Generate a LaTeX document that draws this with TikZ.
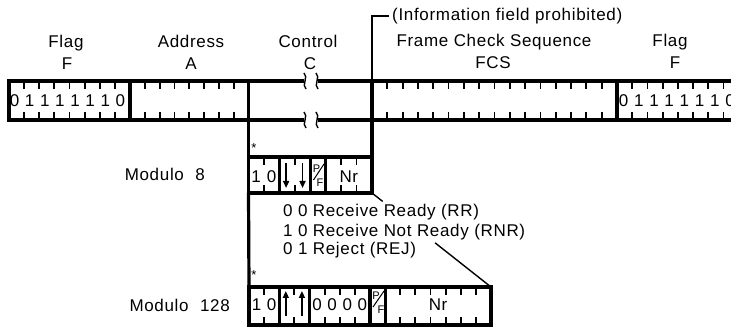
\documentclass[tikz,border=0pt]{standalone}
\usepackage{fontspec}
\setmainfont{Liberation Sans}
\newfontfamily\labfont[LetterSpace=4]{Liberation Sans}
\usetikzlibrary{calc,arrows.meta}
\begin{document}
\begin{tikzpicture}[x=1pt,y=-1pt,
  border/.style={line width=3.2pt, line join=miter},
  tickline/.style={line width=1.8pt},
  thinline/.style={line width=1.4pt},
  lab/.style={font=\labfont\fontsize{17}{20}\selectfont, inner sep=0pt, anchor=base},
  bit/.style={font=\labfont\fontsize{17}{20}\selectfont, inner sep=0pt, anchor=base},
  pf/.style={font=\fontsize{11}{12}\selectfont, inner sep=0pt},
  star/.style={font=\fontsize{13}{13}\selectfont, inner sep=0pt, anchor=base},
  arr/.style={line width=1.6pt, -{Triangle[width=6pt,length=7pt]}},
]
\useasboundingbox (0,0) rectangle (731,328);
\clip (0,0) rectangle (731,328);

% ---------- main frame bar ----------
\draw[border] (9,81) rectangle (130,120);
\draw[border] (130,81) rectangle (248.5,120);
\draw[border] (372,81) rectangle (617,120);
\draw[border] (617,81) rectangle (745,120);
\draw[border] (248.5,81) -- (304,81) (318,81) -- (372,81);
\draw[border] (248.5,120) -- (304,120) (318,120) -- (372,120);
\draw[border] (248.5,81) -- (248.5,157);
\draw[border] (372,81) -- (372,157);
\coordinate (brk) at (389,16);
\draw[thinline] (372,82) -- (372,16) -- (brk);

% break marks
\foreach \yy in {81,120}{
  \foreach \xx in {305,317}{
    \draw[line width=1.4pt] (\xx-1,\yy-8) .. controls (\xx+4,\yy-4) and (\xx-4,\yy+4) .. (\xx+1,\yy+8);
  }
}

% ticks
\foreach \k in {1,...,7}{
  \draw[tickline] ({9+\k*15.125},81) -- ++(0,8);
  \draw[tickline] ({9+\k*15.125},120) -- ++(0,-8);
  \draw[tickline] ({130+\k*14.8125},81) -- ++(0,8);
  \draw[tickline] ({130+\k*14.8125},120) -- ++(0,-8);
}
\foreach \k in {1,...,15}{
  \draw[tickline] ({372+\k*15.3125},81) -- ++(0,8);
  \draw[tickline] ({372+\k*15.3125},120) -- ++(0,-8);
}
\foreach \k in {1,...,8}{
  \draw[tickline] ({617+\k*15.2},81) -- ++(0,8);
  \draw[tickline] ({617+\k*15.2},120) -- ++(0,-8);
}

% flag digits
\foreach \d [count=\k from 0] in {0,1,1,1,1,1,1,0}{
  \node[bit] (lf\k) at ({9+(\k+0.5)*15.125-2},107) {\d};
  \node[bit] (rf\k) at ({617+(\k+0.5)*15.2-1},107) {\d};
}

% ---------- labels ----------
\node[lab] (flag1) at (66,48) {Flag};
\node[lab] (f1) at (67,70) {F};
\node[lab] (addr) at (191,48) {Address};
\node[lab] (a1) at (191,70) {A};
\node[lab] (ctrl) at (308,48) {Control};
\node[lab] (c1) at (310,70) {C};
\node[lab] (fcsl) at (494,47) {Frame Check Sequence};
\node[lab] (fcs) at (493,69) {FCS};
\node[lab] (flag2) at (670,47) {Flag};
\node[lab] (f2) at (675,69) {F};
\node[lab, anchor=base west] (info) at (392,21) {(Information field prohibited)};

\node[lab, anchor=base east] (mod8) at (205,181) {Modulo\hspace{6pt} 8};
\node[lab, anchor=base east] (mod128) at (230,312) {Modulo\hspace{6pt} 128};

% ---------- modulo 8 control field ----------
\def\wa{15.4375}
\draw[border] (248.5,157) rectangle (372,193);
\foreach \k in {1,...,7}{
  \draw[tickline] ({248.5+\k*\wa},157) -- ++(0,8);
  \draw[tickline] ({248.5+\k*\wa},193) -- ++(0,-8);
}
\foreach \k in {2,4,5}{
  \draw[border] ({248.5+\k*\wa},157) -- ({248.5+\k*\wa},193);
}
\node[bit] (m8a) at ({248.5+0.5*\wa},183) {1};
\node[bit] (m8b) at ({248.5+1.5*\wa},183) {0};
\draw[arr] ({248.5+2.5*\wa-1},163) -- ({248.5+2.5*\wa-1},188);
\draw[arr] ({248.5+3.5*\wa},163) -- ({248.5+3.5*\wa},188);
\node[pf] (m8p) at (316.5,169) {P};
\node[pf] (m8f) at (320,183) {F};
\draw[line width=1pt] (313.5,180) -- (324,164);
\node[bit] (m8nr) at ({248.5+6.5*\wa},183) {Nr};
\node[star] (st1) at (254,153) {*};

% connector lines between fields
\coordinate (m8bl) at (248.5,193);
\coordinate (m8br) at (372,193);
\coordinate (m128tl) at (249,287);
\coordinate (m128tr) at (491,287);
\draw[border] (m8bl) -- (m128tl);
\draw[thinline] (m8br) -- ($(m8br)!0.09!(m128tr)$);
\draw[thinline] ($(m8br)!0.53!(m128tr)$) -- (m128tr);

\node[lab, anchor=base west] (rr) at (283,217) {0 0 Receive Ready (RR)};
\node[lab, anchor=base west] (rnr) at (283,237) {1 0 Receive Not Ready (RNR)};
\node[lab, anchor=base west] (rej) at (283,255) {0 1 Reject (REJ)};
\node[star] (st2) at (254,280) {*};

% ---------- modulo 128 control field ----------
\def\wb{15.125}
\draw[border] (249,287) rectangle (491,325);
\foreach \k in {1,...,15}{
  \draw[tickline] ({249+\k*\wb},287) -- ++(0,8);
  \draw[tickline] ({249+\k*\wb},325) -- ++(0,-8);
}
\foreach \k in {2,4,8,9}{
  \draw[border] ({249+\k*\wb},287) -- ({249+\k*\wb},325);
}
\node[bit] (mba) at ({249+0.5*\wb},311) {1};
\node[bit] (mbb) at ({249+1.5*\wb},311) {0};
\draw[arr] ({249+2.5*\wb-1},316) -- ({249+2.5*\wb-1},291);
\draw[arr] ({249+3.5*\wb},316) -- ({249+3.5*\wb},291);
\foreach \k in {4,...,7}{
  \node[bit] (z\k) at ({249+(\k+0.5)*\wb},311) {0};
}
\node[pf] (mbp) at (376,296) {P};
\node[pf] (mbf) at (381,310) {F};
\draw[line width=1pt] (373,307) -- (384,291);
\node[bit] (mbnr) at ({249+12.5*\wb},311) {Nr};
\end{tikzpicture}
\end{document}
